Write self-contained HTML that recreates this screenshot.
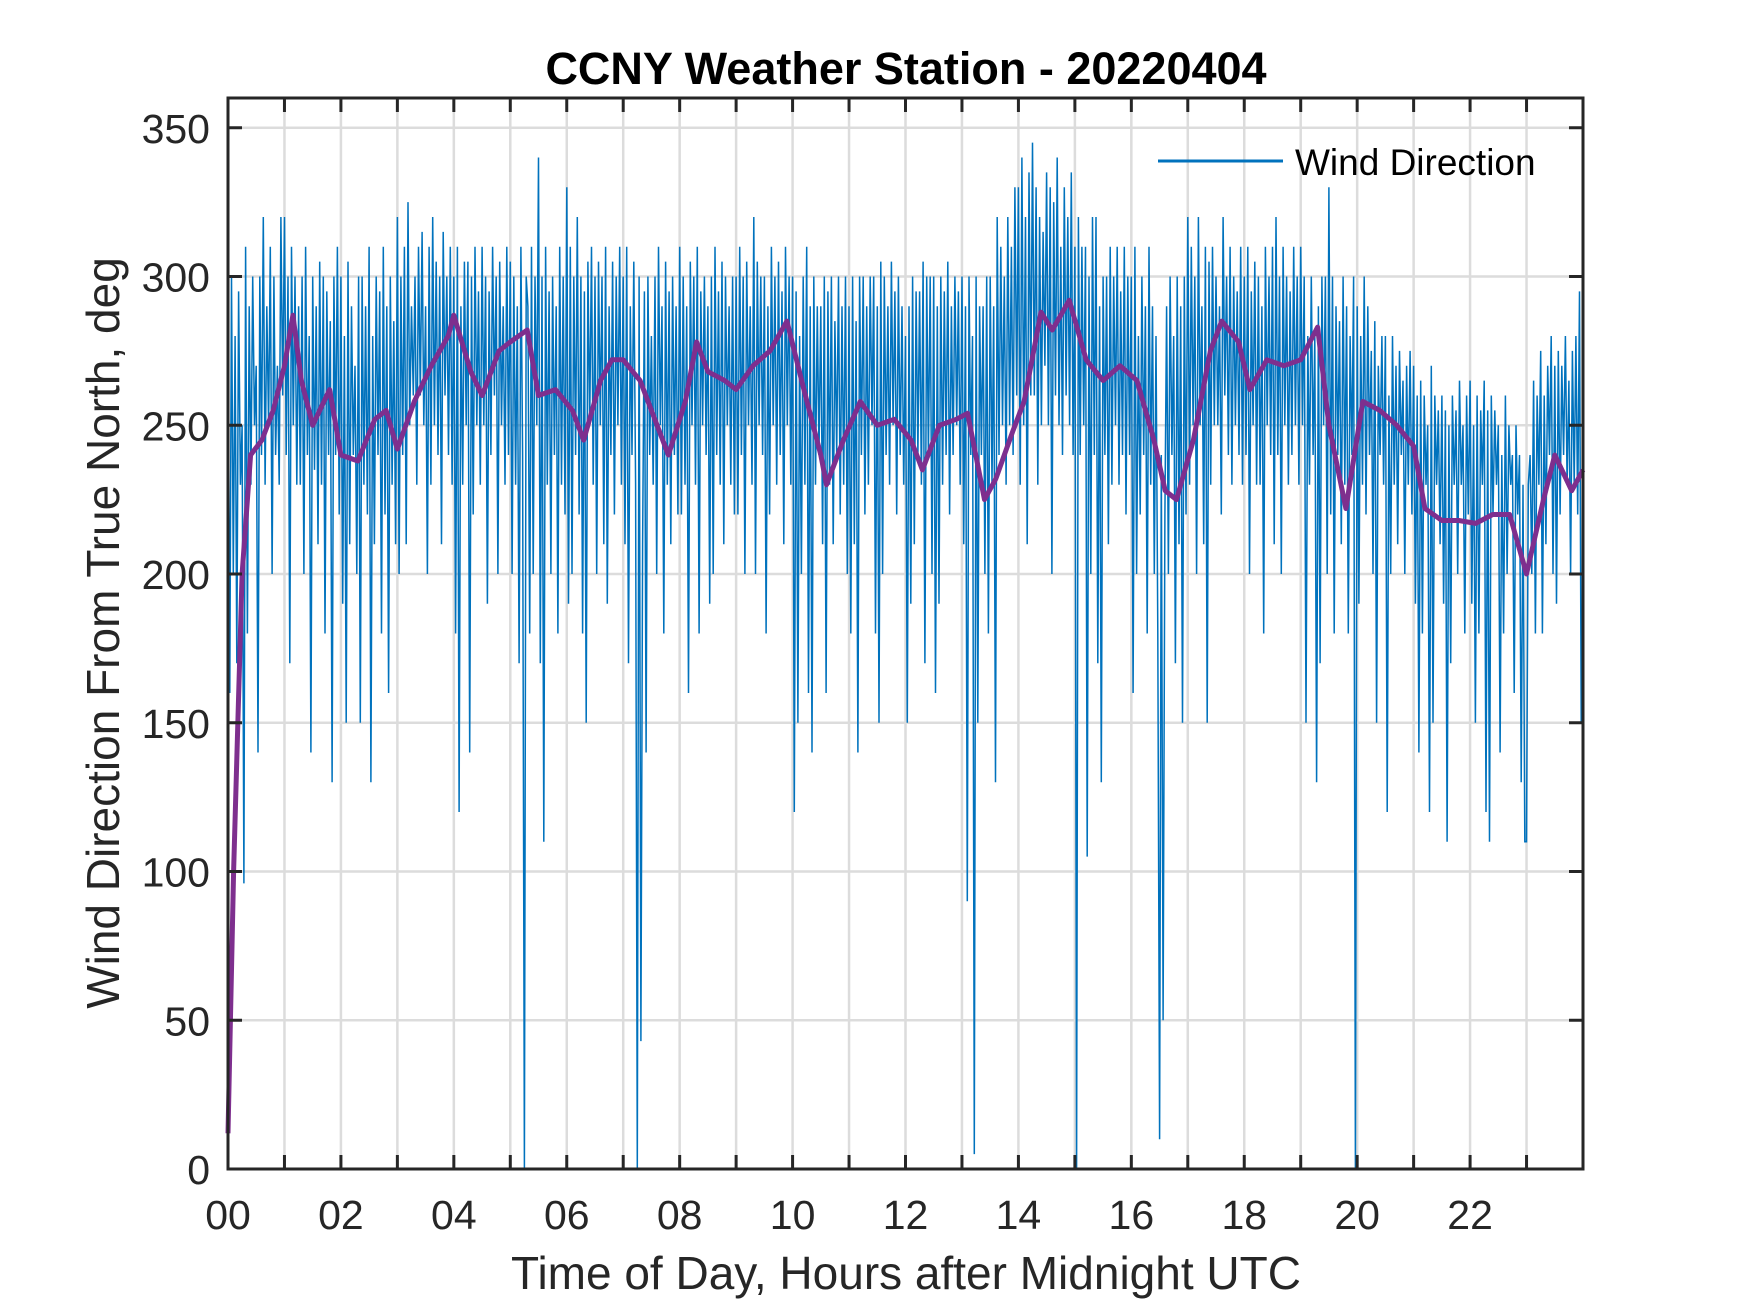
<!DOCTYPE html>
<html><head><meta charset="utf-8"><style>
html,body{margin:0;padding:0;background:#fff}
svg{display:block}
text{font-family:"Liberation Sans",Arial,sans-serif;fill:#262626}
</style></head><body>
<svg id="chart" width="1750" height="1313" viewBox="0 0 1750 1313" xmlns="http://www.w3.org/2000/svg">
<rect x="0" y="0" width="1750" height="1313" fill="#fff"/>
<g id="grid"></g>
<g id="series"></g>
<g id="axes"></g>
<text x="906" y="84" text-anchor="middle" font-size="45" font-weight="bold" style="fill:#000">CCNY Weather Station - 20220404</text>
<text x="906" y="1289" text-anchor="middle" font-size="46">Time of Day, Hours after Midnight UTC</text>
<text x="0" y="0" text-anchor="middle" font-size="46" transform="translate(119,633) rotate(-90)">Wind Direction From True North, deg</text>
<g>
<line x1="1158" y1="161" x2="1283" y2="161" stroke="#0072BD" stroke-width="3"/>
<text x="1295" y="175" font-size="37" style="fill:#000">Wind Direction</text>
</g>
</svg>
<script>
const xTicks = [0,2,4,6,8,10,12,14,16,18,20,22];
const xTickLabels = ["00","02","04","06","08","10","12","14","16","18","20","22"];
const yTicks = [0,50,100,150,200,250,300,350];
const windRaw = [
290,160,300,200,280,170,295,230,250,96,310,180,290,230,300,250,270,140,300,240,320,230,290,250,310,200,300,240,270,230,320,260,
320,240,300,170,310,250,300,230,290,230,300,200,310,240,280,140,300,235,290,210,305,230,300,180,295,240,285,130,300,240,310,220,
300,190,280,150,305,210,290,240,270,200,300,150,300,230,290,220,310,130,280,210,300,240,295,180,310,220,290,160,300,230,285,210,
320,200,300,240,310,210,325,250,290,260,300,230,310,260,315,250,290,200,310,230,320,250,305,240,300,210,315,260,300,240,310,230,
300,180,310,120,290,230,305,250,305,140,300,220,310,250,295,230,310,250,300,190,295,240,310,260,300,200,305,250,290,230,310,240,
305,200,300,230,290,170,310,240,0,300,290,180,310,200,300,250,340,170,300,110,310,230,295,200,300,240,290,180,310,230,300,220,
330,190,310,200,300,240,320,220,300,180,295,150,305,250,310,230,300,200,305,250,300,210,310,190,290,240,305,220,300,250,310,230,
300,210,310,170,290,240,305,230,0,300,43,210,295,140,300,240,280,230,300,200,310,250,290,180,305,230,295,210,300,240,290,220,
310,220,300,230,290,160,305,250,300,230,310,180,295,250,300,240,290,190,300,200,310,240,295,230,305,210,300,250,290,230,300,220,
300,220,310,240,300,200,305,250,290,230,320,200,305,250,300,240,300,180,290,220,310,250,300,230,305,240,295,210,310,250,300,230,
300,120,295,150,280,200,300,230,310,160,290,140,300,230,290,240,290,210,300,160,295,230,300,210,285,240,300,220,290,230,300,200,
290,180,300,210,285,140,300,240,300,220,290,230,300,250,300,180,290,150,305,200,300,240,290,230,305,250,295,220,300,240,290,230,
280,150,290,190,300,210,295,240,295,230,305,170,300,240,300,200,300,160,290,190,300,230,295,240,305,220,290,240,300,250,295,230,
300,210,290,90,300,240,280,5,300,150,290,240,290,200,300,180,300,230,290,130,320,240,310,250,300,230,320,250,310,240,330,260,
330,230,340,250,320,210,335,260,345,260,330,230,320,250,315,270,335,250,330,200,325,260,340,250,310,240,330,260,320,250,335,240,
310,0,320,240,310,250,310,105,300,200,320,240,320,170,290,130,300,240,300,210,310,230,300,250,310,230,295,240,310,220,300,240,
300,160,310,200,280,220,300,240,290,180,310,230,290,200,280,180,10,240,50,220,290,200,300,240,280,170,300,210,290,150,300,220,
320,230,310,250,300,200,320,250,290,210,310,150,305,230,310,250,300,250,290,220,320,260,300,240,310,230,300,250,295,240,310,230,
300,240,310,200,295,250,305,230,300,230,290,180,310,250,300,240,310,210,320,240,300,200,310,250,300,230,295,240,310,250,300,230,
310,250,300,150,280,230,300,240,280,130,290,170,300,250,300,200,330,220,300,180,290,240,285,210,300,230,290,180,280,240,300,0,
290,190,280,230,300,220,290,240,275,200,285,150,270,240,280,230,280,120,260,200,280,230,270,210,275,240,265,200,270,230,275,220,
270,190,260,140,265,180,260,230,250,120,270,150,260,230,255,210,260,190,255,110,250,170,260,230,255,200,265,230,250,180,260,220,
265,190,250,150,260,180,255,230,265,120,255,110,260,220,255,230,250,140,240,180,260,200,250,230,240,160,250,220,240,130,230,110,
110,230,240,200,265,180,260,230,275,180,260,210,270,240,280,200,270,190,275,220,270,240,280,230,265,200,275,230,280,220,295,150
];
const avgHours = [0,0.1,0.25,0.4,0.6,0.8,1.0,1.15,1.3,1.5,1.8,2.0,2.3,2.6,2.8,3.0,3.3,3.6,3.9,4.0,4.3,4.5,4.8,5.0,5.3,5.5,5.8,6.1,6.3,6.6,6.8,7.0,7.3,7.6,7.8,8.1,8.3,8.5,8.8,9.0,9.3,9.6,9.9,10.2,10.5,10.6,10.9,11.2,11.5,11.8,12.1,12.3,12.6,12.9,13.1,13.4,13.6,13.9,14.1,14.4,14.6,14.9,15.2,15.5,15.8,16.1,16.4,16.6,16.8,17.1,17.4,17.6,17.9,18.1,18.4,18.7,19.0,19.3,19.5,19.8,20.1,20.4,20.7,21.0,21.2,21.5,21.8,22.1,22.4,22.7,23.0,23.3,23.5,23.8,24];
const avgValues = [12,100,200,240,245,255,270,287,265,250,262,240,238,252,255,242,258,270,280,287,268,260,275,278,282,260,262,255,245,265,272,272,265,250,240,258,278,268,265,262,270,275,285,262,240,230,245,258,250,252,245,235,250,252,254,225,232,248,258,288,282,292,272,265,270,265,245,228,225,245,275,285,278,262,272,270,272,283,250,222,258,255,250,243,222,218,218,217,220,220,200,225,240,228,235];

const X0=228, X1=1583, Y0=1169, Y1=98, XMAX=24, YMAX=360;
const xs = h => X0 + (h/XMAX)*(X1-X0);
const ys = v => Y0 - (v/YMAX)*(Y0-Y1);
const NS="http://www.w3.org/2000/svg";
function mk(tag, attrs, parent){const e=document.createElementNS(NS,tag);for(const k in attrs)e.setAttribute(k,attrs[k]);parent.appendChild(e);return e;}
const grid=document.getElementById('grid'), series=document.getElementById('series'), axes=document.getElementById('axes');

for(let h=1;h<24;h++){
  const g=mk('line',{x1:xs(h),x2:xs(h),y1:Y1,y2:Y0,stroke:'#dcdcdc','stroke-width':2.5},grid);
  
  
}
yTicks.forEach(v=>{ if(v===0) return;
  const g=mk('line',{x1:X0,x2:X1,y1:ys(v),y2:ys(v),stroke:'#dcdcdc','stroke-width':2.5},grid);
  
  
});

const stepH = 24/windRaw.length;
let d='';
windRaw.forEach((v,i)=>{ d += (i?'L':'M')+xs(i*stepH).toFixed(1)+' '+ys(v).toFixed(1); });
const wl=mk('path',{d:d,fill:'none',stroke:'#0072BD','stroke-width':1.5,'stroke-linejoin':'miter'},series);



let d2='';
avgHours.forEach((h,i)=>{ d2 += (i?'L':'M')+xs(h).toFixed(1)+' '+ys(avgValues[i]).toFixed(1); });
const al=mk('path',{d:d2,fill:'none',stroke:'#7E2F8E','stroke-width':5,'stroke-linejoin':'round'},series);



const box=mk('rect',{x:X0,y:Y1,width:X1-X0,height:Y0-Y1,fill:'none',stroke:'#262626','stroke-width':3},axes);


for(let h=1;h<24;h++){
  const t1=mk('line',{x1:xs(h),x2:xs(h),y1:Y0,y2:Y0-14,stroke:'#262626','stroke-width':3},axes);
  
  
  const t2=mk('line',{x1:xs(h),x2:xs(h),y1:Y1,y2:Y1+14,stroke:'#262626','stroke-width':3},axes);
  
  
}
xTicks.forEach((h,i)=>{
  const t=mk('text',{x:xs(h),y:1229,'text-anchor':'middle','font-size':41},axes);
  t.textContent=xTickLabels[i];
  
  
});
yTicks.forEach(v=>{
  const t1=mk('line',{x1:X0,x2:X0+14,y1:ys(v),y2:ys(v),stroke:'#262626','stroke-width':3},axes);
  
  
  const t2=mk('line',{x1:X1,x2:X1-14,y1:ys(v),y2:ys(v),stroke:'#262626','stroke-width':3},axes);
  
  
  const t=mk('text',{x:210,y:ys(v)+15,'text-anchor':'end','font-size':41},axes);
  t.textContent=String(v);
  
  
});
</script>
</body></html>
